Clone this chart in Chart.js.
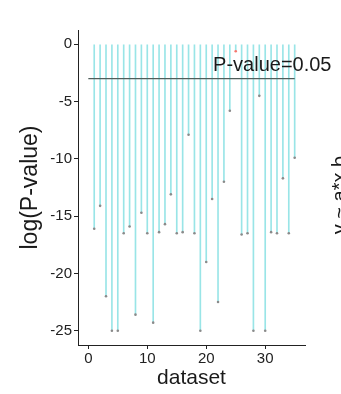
<!DOCTYPE html>
<html>
<head>
<meta charset="utf-8">
<script src="https://cdn.jsdelivr.net/npm/chart.js@4/dist/chart.umd.min.js"></script>
<style>
  html, body { margin: 0; padding: 0; background: #fff; }
  #wrap { width: 341px; height: 394px; position: relative; }
</style>
</head>
<body>
<div id="wrap"><canvas id="myChart"></canvas></div>
<script>
// dataset index on the x axis, one stem each
const datasetIds = [1, 2, 3, 4, 5, 6, 7, 8, 9, 10, 11, 12, 13, 14, 15, 16, 17, 18,
  19, 20, 21, 22, 23, 24, 25, 26, 27, 28, 29, 30, 31, 32, 33, 34, 35];
// log(P-value)
const logP = [-16.1, -14.1, -22.0, -25.0, -25.0, -16.5, -15.9, -23.6, -14.7, -16.5,
  -24.3, -16.4, -15.7, -13.1, -16.5, -16.4, -7.9, -16.5, -25.0, -19.0,
  -13.5, -22.5, -12.0, -5.8, -0.6, -16.6, -16.5, -25.0, -4.5, -25.0,
  -16.4, -16.5, -11.7, -16.5, -9.9];
const cutoff = Math.log(0.05);      // P-value = 0.05
const cutoffSpan = [0, 35];
const xTickValues = [0, 10, 20, 30];
const yTickValues = [-25, -20, -15, -10, -5, 0];

const font = "'Liberation Sans', Arial, sans-serif";
const stemColor = 'rgba(0,191,196,0.4)';

const stems = datasetIds.map((x, i) => ({ x: x, y: logP[i] }));
const dotColors = logP.map(v => v > cutoff ? '#F8766D' : '#8a8a8a');

// text that is not a data mark: cutoff label and the clipped label of the next panel
const labelPlugin = {
  id: 'labels',
  afterDraw: function(chart) {
    const ctx = chart.ctx;
    const xs = chart.scales.x, ys = chart.scales.y;
    ctx.save();
    ctx.fillStyle = '#1a1a1a';
    ctx.font = '20px ' + font;
    ctx.textAlign = 'center';
    ctx.textBaseline = 'alphabetic';
    ctx.fillText('P-value=0.05', xs.getPixelForValue(31.2), ys.getPixelForValue(-2.3));
    ctx.translate(350, 195);
    ctx.rotate(-Math.PI / 2);
    ctx.textBaseline = 'bottom';
    ctx.fillText('y ~ a*x b', 0, 0);
    ctx.restore();
  }
};

const chart = new Chart(document.getElementById('myChart'), {
  type: 'bar',
  data: {
    datasets: [
      {
        type: 'line',
        data: cutoffSpan.map(x => ({ x: x, y: cutoff })),
        borderColor: '#4f5e5b',
        borderWidth: 1.2,
        pointRadius: 0,
        order: 0
      },
      {
        type: 'scatter',
        data: stems,
        pointRadius: 1.3,
        pointBorderWidth: 0,
        pointBackgroundColor: dotColors,
        order: 1
      },
      {
        type: 'bar',
        data: stems,
        backgroundColor: stemColor,
        borderWidth: 0,
        barThickness: 1,
        order: 2
      }
    ]
  },
  options: {
    responsive: true,
    maintainAspectRatio: false,
    animation: false,
    layout: { padding: { top: 30, right: 36, left: 0, bottom: 0 } },
    plugins: { legend: { display: false }, tooltip: { enabled: false } },
    scales: {
      x: {
        type: 'linear',
        offset: false,
        min: -1.75,
        max: 36.75,
        afterBuildTicks: function(axis) { axis.ticks = xTickValues.map(v => ({ value: v })); },
        afterFit: function(axis) { axis.height = 49; },
        grid: { display: true, offset: false, drawOnChartArea: false, drawTicks: true, tickLength: 4, color: '#222' },
        border: { display: true, color: '#222', width: 1 },
        ticks: { color: '#222', font: { family: font, size: 15 }, padding: 1, maxRotation: 0 },
        title: { display: true, text: 'dataset', color: '#1a1a1a', font: { family: font, size: 21 }, padding: { top: 0, bottom: 3 } }
      },
      y: {
        type: 'linear',
        min: -26.25,
        max: 1.25,
        afterBuildTicks: function(axis) { axis.ticks = yTickValues.map(v => ({ value: v })); },
        afterFit: function(axis) { axis.width = 78; },
        grid: { display: true, drawOnChartArea: false, drawTicks: true, tickLength: 4, color: '#222' },
        border: { display: true, color: '#222', width: 1 },
        ticks: { color: '#222', font: { family: font, size: 15 }, padding: 2 },
        title: { display: true, text: 'log(P-value)', color: '#1a1a1a', font: { family: font, size: 23 }, padding: { top: 17, bottom: 0 } }
      }
    }
  },
  plugins: [labelPlugin]
});
</script>
</body>
</html>
